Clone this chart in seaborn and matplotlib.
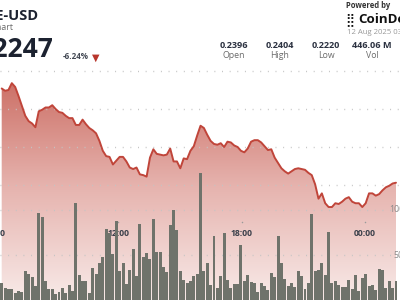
import numpy as np
import pandas as pd
import matplotlib
matplotlib.use("Agg")
import matplotlib.pyplot as plt
import matplotlib.dates as mdates
import matplotlib.transforms as mtransforms
from matplotlib.colors import LinearSegmentedColormap
from matplotlib.lines import Line2D
import seaborn as sns

# ---------------- data ----------------
price = [0.2377, 0.2374, 0.2375, 0.2384, 0.2379, 0.2367, 0.2354, 0.2341, 0.2334, 0.2331,
         0.2326, 0.2347, 0.2349, 0.2352, 0.2352, 0.2355, 0.2350, 0.2346, 0.2345, 0.2341,
         0.2338, 0.2338, 0.2329, 0.2329, 0.2336, 0.2330, 0.2325, 0.2322, 0.2318, 0.2308,
         0.2295, 0.2288, 0.2287, 0.2277, 0.2282, 0.2287, 0.2287, 0.2281, 0.2273, 0.2271,
         0.2273, 0.2264, 0.2263, 0.2261, 0.2286, 0.2297, 0.2291, 0.2290, 0.2289, 0.2290,
         0.2298, 0.2281, 0.2281, 0.2272, 0.2285, 0.2284, 0.2295, 0.2301, 0.2315, 0.2328,
         0.2325, 0.2316, 0.2308, 0.2304, 0.2303, 0.2305, 0.2300, 0.2307, 0.2306, 0.2302,
         0.2300, 0.2295, 0.2293, 0.2298, 0.2307, 0.2309, 0.2309, 0.2306, 0.2301, 0.2296,
         0.2297, 0.2286, 0.2279, 0.2272, 0.2268, 0.2265, 0.2268, 0.2271, 0.2272, 0.2271,
         0.2270, 0.2266, 0.2263, 0.2251, 0.2232, 0.2239, 0.2226, 0.2221, 0.2221, 0.2226,
         0.2225, 0.2228, 0.2232, 0.2234, 0.2228, 0.2226, 0.2226, 0.2221, 0.2226, 0.2239,
         0.2239, 0.2236, 0.2238, 0.2243, 0.2247, 0.2249, 0.2252, 0.2253]

volume = [18.9, 13.3, 12.2, 12.2, 7.8, 10.0, 8.9, 32.2, 28.9, 25.6,
          15.6, 96.7, 92.2, 21.1, 12.2, 12.2, 6.7, 8.9, 13.3, 7.8,
          16.7, 10.0, 107.8, 27.8, 21.1, 21.1, 7.8, 35.6, 28.9, 41.1,
          47.8, 78.9, 74.4, 51.1, 87.8, 32.2, 41.1, 17.8, 33.3, 56.7,
          26.7, 84.4, 47.8, 52.2, 45.6, 90.0, 53.3, 53.3, 36.7, 31.1,
          83.3, 100.0, 77.8, 32.2, 22.2, 18.9, 21.1, 26.7, 28.9, 141.1,
          32.2, 41.1, 16.7, 71.1, 13.3, 26.7, 74.4, 22.2, 13.3, 17.8,
          17.8, 61.1, 21.1, 27.8, 20.0, 18.9, 8.9, 18.9, 15.6, 11.1,
          30.0, 25.6, 71.1, 41.1, 23.3, 15.6, 18.9, 14.4, 32.2, 26.7,
          12.2, 18.9, 95.6, 32.2, 33.3, 41.1, 27.8, 75.6, 18.9, 21.1,
          16.7, 14.4, 14.4, 22.2, 12.2, 27.8, 10.0, 24.4, 28.9, 15.6,
          16.7, 11.1, 34.4, 33.3, 13.3, 21.1, 13.3, 21.1]

times = pd.date_range("2025-08-11 06:20", "2025-08-12 01:30", periods=len(volume))
time_labels = ["06:00", "12:00", "18:00", "00:00"]
label_times = pd.to_datetime(["2025-08-11 06:00", "2025-08-11 12:00",
                              "2025-08-11 18:00", "2025-08-12 00:00"])
price_ticks = [0.225, 0.230, 0.235]
volume_ticks = [50, 100]
volume_labels = ["50M", "100M"]

title = "DOGE-USD"
subtitle = "DOGE Chart"
last_price = "$0.2247"
change = "-6.24%"
stat_values = ["0.2396", "0.2404", "0.2220", "446.06 M"]
stat_names = ["Open", "High", "Low", "Vol"]
timestamp = "12 Aug 2025 03:20 UTC"

# ---------------- style ----------------
sns.set_theme(style="white")
plt.rcParams["font.family"] = ["Open Sans", "DejaVu Sans"]

W, H = 400, 300
fig = plt.figure(figsize=(4, 3), dpi=100)
fig.patch.set_facecolor("white")


def fx(x):
    return x / W


def fy(y):
    return 1 - y / H


CHART_TOP = 72
ax = fig.add_axes([0, 0, 1, (H - CHART_TOP) / H])
ax.set_facecolor("none")

xn = mdates.date2num(times)
step = (xn[-1] - xn[0]) / (len(xn) - 1)
pitch = 3.37  # px per bar
x_left = xn[0] - 1.7 / pitch * step
x_right = xn[0] + (W - 1.7) / pitch * step

# price scale: 0.005 per 38 px, 0.225 at y=185
ppx = 0.005 / 38
y_lo = 0.225 - (H - 185) * ppx
y_hi = 0.225 + (185 - CHART_TOP) * ppx

# gradient fill under the line
poly = ax.fill_between(xn, price, y_lo, facecolor="none", edgecolor="none", lw=0)
cmap = LinearSegmentedColormap.from_list(
    "g", [(0.0, "#ca6a60"), (0.5, "#e6b3ae"), (1.0, "#f8eae8")])
grad = np.linspace(0, 1, 256).reshape(-1, 1)
img = ax.imshow(grad, extent=[x_left, x_right, y_lo, y_hi], origin="upper",
                aspect="auto", cmap=cmap, zorder=1, interpolation="bilinear")
img.set_clip_path(poly.get_paths()[0], transform=ax.transData)

sns.lineplot(x=xn, y=price, ax=ax, color="#c0453a", lw=1.4, zorder=4)

ax.set_xlim(x_left, x_right)
ax.set_ylim(y_lo, y_hi)
ax.set_yticks(price_ticks)
ax.set_axisbelow(False)
ax.yaxis.grid(True, color="#c4c4c4", lw=1.0, linestyle=(0, (0.7, 4.8)), zorder=3)
ax.xaxis.grid(False)
ax.tick_params(left=False, bottom=False, labelleft=False, labelbottom=False)
for s in ax.spines.values():
    s.set_visible(False)

# volume bars on a twin axis
ax2 = ax.twinx()
sns.barplot(x=xn, y=volume, ax=ax2, native_scale=True, color="#6f736b",
            saturation=1, width=0.88, errorbar=None, linewidth=0)
ax2.set_xlim(x_left, x_right)
ax2.set_ylim(0, (H - CHART_TOP) / 90 * 100)
ax2.set_yticks(volume_ticks)
ax2.set_axisbelow(True)
ax2.yaxis.grid(True, color="#c4c4c4", lw=1.0, linestyle=(0, (0.7, 4.8)))
ax2.xaxis.grid(False)
ax2.tick_params(right=False, bottom=False, labelright=False, labelbottom=False)
ax2.set_ylabel("")
for s in ax2.spines.values():
    s.set_visible(False)

# volume labels (cut at right edge like the reference)
blend2 = mtransforms.blended_transform_factory(fig.transFigure, ax2.transData)
for v, lab in zip(volume_ticks, volume_labels):
    ax2.text(fx(412), v, lab, transform=blend2, ha="right", va="center",
             fontsize=6.3, color="#8a8a8a")

# time labels inside chart
blend = mtransforms.blended_transform_factory(ax.transData, ax.transAxes)
ly = (H - 234) / (H - CHART_TOP)
dy = (H - 222) / (H - CHART_TOP)
for t, lab in zip(mdates.date2num(label_times), time_labels):
    ax.text(t, ly, lab, transform=blend, ha="center", va="center",
            fontsize=6.2, fontweight="bold", color="#3a3f4a", zorder=6)
ax.scatter(mdates.date2num(label_times), [dy] * len(label_times), transform=blend,
           s=1.2, color="#9a9a9a", zorder=6, linewidths=0)

# separator line
fig.add_artist(Line2D([0, 1], [fy(71), fy(71)], transform=fig.transFigure,
                      color="#c4c4c4", lw=1.0, linestyle=(0, (0.7, 4.8))))

# ---------------- header ----------------
dark = "#1c2230"
fig.text(fx(38.5), fy(16), title, ha="right", va="center", fontsize=10.5,
         fontweight="bold", color=dark)
fig.text(fx(13.5), fy(28), subtitle, ha="right", va="center", fontsize=6.3,
         color="#6b6b6b")
fig.text(fx(54), fy(49), last_price, ha="right", va="center", fontsize=19,
         fontweight="bold", color=dark)
fig.text(fx(63), fy(56.5), change, ha="left", va="center", fontsize=5.8,
         fontweight="bold", color="#444a55")
fig.text(fx(95.5), fy(57.5), "▼", ha="center", va="center", fontsize=7,
         color="#b8362c", family="DejaVu Sans")

fig.text(fx(346), fy(5.5), "Powered by", ha="left", va="center", fontsize=5.5,
         fontweight="bold", color="#333333")
fig.text(fx(345.5), fy(19.5), "⣿", ha="left", va="center", fontsize=9,
         color="#111111", family="DejaVu Sans")
fig.text(fx(358), fy(19.5), "CoinDesk", ha="left", va="center", fontsize=9.5,
         fontweight="bold", color="#111111")
fig.text(fx(347), fy(32.5), timestamp, ha="left", va="center", fontsize=5.6,
         color="#9a9a9a")

for cx, v, n in zip([234, 280, 326, 372], stat_values, stat_names):
    fig.text(fx(cx), fy(45), v, ha="center", va="center", fontsize=6.6,
             fontweight="bold", color="#2b3140")
    fig.text(fx(cx), fy(56), n, ha="center", va="center", fontsize=6.3,
             color="#6b6b6b")

fig.savefig("out.png", dpi=100)
